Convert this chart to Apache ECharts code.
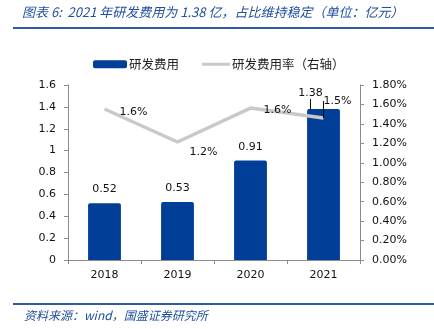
<!DOCTYPE html>
<html>
<head>
<meta charset="utf-8">
<script src="https://cdn.jsdelivr.net/npm/echarts@6/dist/echarts.min.js"></script>
<style>
html,body{margin:0;padding:0;background:#fff;}
#c{width:434px;height:329px;}
</style>
</head>
<body>
<div id="c"></div>
<script>
var categories = ['2018', '2019', '2020', '2021'];
var rdExpense = [0.52, 0.53, 0.91, 1.38];          // 亿元
var rdRatio = [1.553, 1.214, 1.563, 1.46];          // %
var leftTicks = {min: 0, max: 1.6, interval: 0.2};
var rightTicks = {min: 0, max: 1.8, interval: 0.2};

var titleText = '图表 6:  2021 年研发费用为 1.38 亿，占比维持稳定（单位：亿元）';
var sourceText = '资料来源：wind，国盛证券研究所';

var blue = '#003E97';
var gray = '#C9C9C9';
var numFont = 'DejaVu Sans';
var cjkFont = '"Noto Sans CJK SC", sans-serif';

var lineLabelShift = [[10, 3], [7, 10], [8, 2], [-5, -17]];

var chart = echarts.init(document.getElementById('c'), null, {renderer: 'canvas'});
chart.setOption({
  animation: false,
  grid: {left: 68, right: 74, top: 85, bottom: 69},
  legend: [
    {data: ['研发费用'], left: 93, top: 58, padding: 0, itemWidth: 34, itemHeight: 8, itemGap: 2,
     textStyle: {fontFamily: cjkFont, fontSize: 12.5, color: '#222', padding: [0, 0, 0, -3]}},
    {data: [{name: '研发费用率（右轴）', icon: 'rect', itemStyle: {color: gray}}],
     left: 202, top: 58, padding: 0, itemWidth: 28, itemHeight: 3,
     textStyle: {fontFamily: cjkFont, fontSize: 12.5, color: '#222', padding: [0, 0, 0, -3]}}
  ],
  xAxis: {
    type: 'category',
    data: categories,
    axisLine: {lineStyle: {color: '#8c8c8c', width: 1}},
    axisTick: {show: true, length: 4, lineStyle: {color: '#8c8c8c'}},
    axisLabel: {margin: 10, fontFamily: numFont, fontSize: 11, color: '#111'}
  },
  yAxis: [
    {
      type: 'value', min: leftTicks.min, max: leftTicks.max, interval: leftTicks.interval,
      axisLine: {show: true, lineStyle: {color: '#8c8c8c'}},
      axisTick: {show: true, length: 4, lineStyle: {color: '#8c8c8c'}},
      splitLine: {show: false},
      axisLabel: {margin: 12, fontFamily: numFont, fontSize: 11, color: '#111',
        formatter: function (v) { return String(Math.round(v * 10) / 10); }}
    },
    {
      type: 'value', min: rightTicks.min, max: rightTicks.max, interval: rightTicks.interval,
      position: 'right',
      axisLine: {show: true, lineStyle: {color: '#8c8c8c'}},
      axisTick: {show: true, length: 4, lineStyle: {color: '#8c8c8c'}},
      splitLine: {show: false},
      axisLabel: {margin: 12, fontFamily: numFont, fontSize: 11, color: '#111',
        formatter: function (v) { return v.toFixed(2) + '%'; }}
    }
  ],
  series: [
    {
      name: '研发费用',
      type: 'bar',
      yAxisIndex: 0,
      barWidth: '45%',
      itemStyle: {color: blue, borderRadius: [2, 2, 0, 0]},
      data: rdExpense.map(function (v, i) {
        var d = {value: v};
        if (i === 3) d.labelLine = {show: true, lineStyle: {color: '#000', width: 1}};
        return d;
      }),
      label: {show: true, position: 'top', distance: 8, fontFamily: numFont, fontSize: 11, color: '#111',
        formatter: function (p) { return p.value.toFixed(2); }},
      labelLayout: function (p) {
        if (p.dataIndex === 3) return {dx: -13, dy: -2};
        return {};
      },
      z: 2
    },
    {
      name: '研发费用率（右轴）',
      type: 'line',
      yAxisIndex: 1,
      symbol: 'circle',
      symbolSize: 0.1,
      showSymbol: true,
      itemStyle: {color: gray},
      lineStyle: {color: gray, width: 3.5},
      data: rdRatio.map(function (v, i) {
        var d = {value: v};
        if (i === 3) d.labelLine = {show: true, lineStyle: {color: '#000', width: 1}};
        return d;
      }),
      label: {show: true, position: 'right', distance: 5, fontFamily: numFont, fontSize: 11, color: '#111',
        formatter: function (p) { return (Math.round(p.value * 10) / 10).toFixed(1) + '%'; }},
      labelLayout: function (p) {
        var s = lineLabelShift[p.dataIndex];
        return {dx: s[0], dy: s[1]};
      },
      z: 3
    }
  ],
  graphic: [
    {type: 'text', left: 22, top: 6, style: {text: titleText, fill: '#1F4E9E',
      font: 'italic 13px "Noto Sans CJK SC", sans-serif'}},
    {type: 'line', shape: {x1: 13, y1: 28, x2: 434, y2: 28}, style: {stroke: '#2C5AA3', lineWidth: 2}},
    {type: 'line', shape: {x1: 13, y1: 304, x2: 434, y2: 304}, style: {stroke: '#2C5AA3', lineWidth: 2}},
    {type: 'text', left: 24, top: 309, style: {text: sourceText, fill: '#1F4E9E',
      font: 'italic 12px "Noto Sans CJK SC", sans-serif'}}
  ]
});
</script>
</body>
</html>
